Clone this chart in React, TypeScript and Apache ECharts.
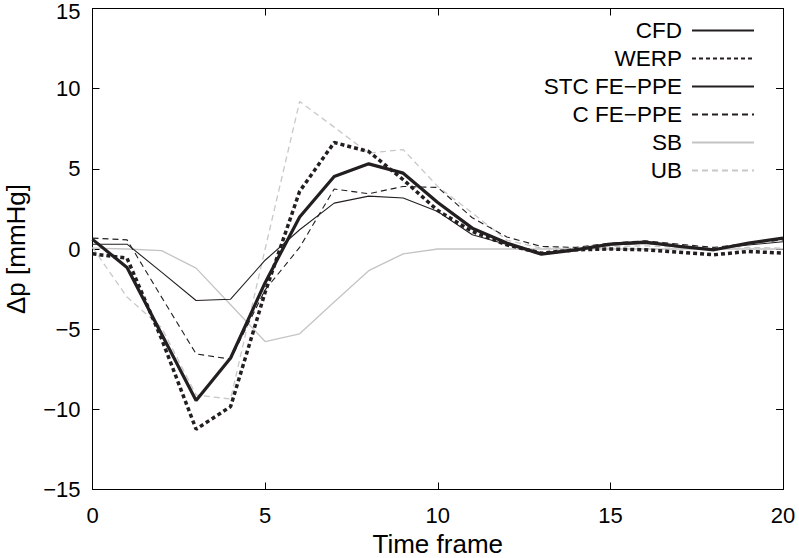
import React, { useEffect, useRef } from "react";
import * as echarts from "echarts";

const frames = Array.from({ length: 21 }, (_, i) => i);
const seriesNames = ["CFD", "WERP", "STC FE\u2212PPE", "C FE\u2212PPE", "SB", "UB"];
const cfd = [0.6, -1.15, -5.3, -9.45, -6.8, -2.1, 2.0, 4.52, 5.31, 4.73, 2.9, 1.3, 0.37, -0.32, -0.05, 0.3, 0.43, 0.16, -0.05, 0.37, 0.68];
const werp = [-0.3, -0.57, -5.6, -11.24, -9.83, -2.7, 3.6, 6.64, 6.08, 4.32, 2.4, 1.09, 0.26, -0.26, -0.05, 0.0, -0.05, -0.2, -0.36, -0.15, -0.26];
const stc = [0.3, 0.3, -1.44, -3.21, -3.13, -0.7, 1.2, 2.86, 3.3, 3.18, 2.34, 0.89, 0.28, -0.25, 0.0, 0.25, 0.35, 0.2, 0.0, 0.25, 0.45];
const cfe = [0.68, 0.57, -3.0, -6.54, -6.87, -2.55, 0.1, 3.74, 3.45, 3.9, 3.84, 1.95, 0.75, 0.16, 0.1, 0.37, 0.51, 0.3, 0.1, 0.35, 0.56];
const sb = [0.05, 0.0, -0.1, -1.19, -3.48, -5.77, -5.29, -3.3, -1.35, -0.3, 0.0, 0.0, 0.0, 0.0, 0.0, 0.0, 0.0, 0.0, 0.0, 0.0, 0.0];
const ub = [0.1, -3.0, -4.9, -9.1, -9.36, 0.0, 9.2, 7.6, 5.98, 6.2, 3.9, 2.25, 0.55, 0.05, 0.05, 0.15, 0.2, 0.1, -0.05, 0.1, 0.05];

const FONT = "'Liberation Sans', Arial, Helvetica, sans-serif";

function pairs(vals: number[]) {
  return frames.map((f, i) => [f, vals[i]]);
}

export default function App() {
  const ref = useRef<HTMLDivElement>(null);
  useEffect(() => {
    if (!ref.current) return;
    const chart = echarts.init(ref.current, null, { renderer: "svg" });
    const minus = (v: number) => String(v).replace("-", "\u2212");
    const yLabel = (v: number) => (v === 15 ? "{t|" + minus(v) + "}" : minus(v));
    const axisCommon = {
      axisLine: { show: true, onZero: false, lineStyle: { color: "#000", width: 1 } },
      axisTick: { show: true, inside: true, length: 7, lineStyle: { color: "#000", width: 1 } },
      splitLine: { show: false },
    };
    chart.setOption({
      animation: false,
      backgroundColor: "#fff",
      textStyle: { fontFamily: FONT },
      grid: { left: 92.5, right: 16, top: 8.5, bottom: 68.5, containLabel: false, outerBoundsMode: "none" },
      legend: {
        data: seriesNames,
        orient: "vertical",
        right: 39,
        top: 14,
        align: "right",
        itemWidth: 62,
        itemHeight: 14,
        itemGap: 5,
        itemStyle: { opacity: 0, borderWidth: 0 },
        textStyle: { fontSize: 22.5, lineHeight: 22, color: "#000", fontFamily: FONT, padding: [0, 5, 0, 0] },
        selectedMode: false,
      },
      xAxis: [
        {
          type: "value",
          min: 0,
          max: 20,
          interval: 5,
          name: "Time frame",
          nameLocation: "middle",
          nameGap: 36,
          nameTextStyle: { fontSize: 26, color: "#000", fontFamily: FONT },
          axisLabel: { fontSize: 22, color: "#000", margin: 15, formatter: minus },
          ...axisCommon,
        },
        {
          type: "value",
          position: "top",
          min: 0,
          max: 20,
          interval: 5,
          axisLabel: { show: false },
          ...axisCommon,
        },
      ],
      yAxis: [
        {
          type: "value",
          min: -15,
          max: 15,
          interval: 5,
          name: "\u0394p [mmHg]",
          nameLocation: "middle",
          nameGap: 64,
          nameTextStyle: { fontSize: 26, color: "#000", fontFamily: FONT },
          axisLabel: {
            fontSize: 22,
            color: "#000",
            margin: 12,
            formatter: yLabel,
            rich: { t: { fontSize: 22, color: "#000", fontFamily: FONT, padding: [6, 0, 0, 0] } },
          },
          ...axisCommon,
        },
        {
          type: "value",
          position: "right",
          min: -15,
          max: 15,
          interval: 5,
          axisLabel: { show: false },
          ...axisCommon,
        },
      ],
      series: [
        {
          name: "SB",
          type: "line",
          data: pairs(sb),
          symbol: "none",
          z: 1,
          lineStyle: { color: "#c4c4c4", width: 1.3 },
          itemStyle: { color: "#c4c4c4" },
        },
        {
          name: "UB",
          type: "line",
          data: pairs(ub),
          symbol: "none",
          z: 1,
          lineStyle: { color: "#c8c8c8", width: 1.3, type: [6, 4] },
          itemStyle: { color: "#c8c8c8" },
        },
        {
          name: "C FE\u2212PPE",
          type: "line",
          data: pairs(cfe),
          symbol: "none",
          z: 2,
          lineStyle: { color: "#231f20", width: 1.1, type: [6, 4] },
          itemStyle: { color: "#231f20" },
        },
        {
          name: "STC FE\u2212PPE",
          type: "line",
          data: pairs(stc),
          symbol: "none",
          z: 2,
          lineStyle: { color: "#231f20", width: 1.1 },
          itemStyle: { color: "#231f20" },
        },
        {
          name: "WERP",
          type: "line",
          data: pairs(werp),
          symbol: "none",
          z: 3,
          lineStyle: { color: "#231f20", width: 3.5, type: [4, 3], cap: "butt" },
          itemStyle: { color: "#231f20" },
        },
        {
          name: "CFD",
          type: "line",
          data: pairs(cfd),
          symbol: "none",
          z: 4,
          lineStyle: { color: "#231f20", width: 3.2 },
          itemStyle: { color: "#231f20" },
        },
      ],
    });
    return () => chart.dispose();
  }, []);
  return <div ref={ref} style={{ width: 799, height: 558, position: "absolute", left: 0, top: 0 }} />;
}
